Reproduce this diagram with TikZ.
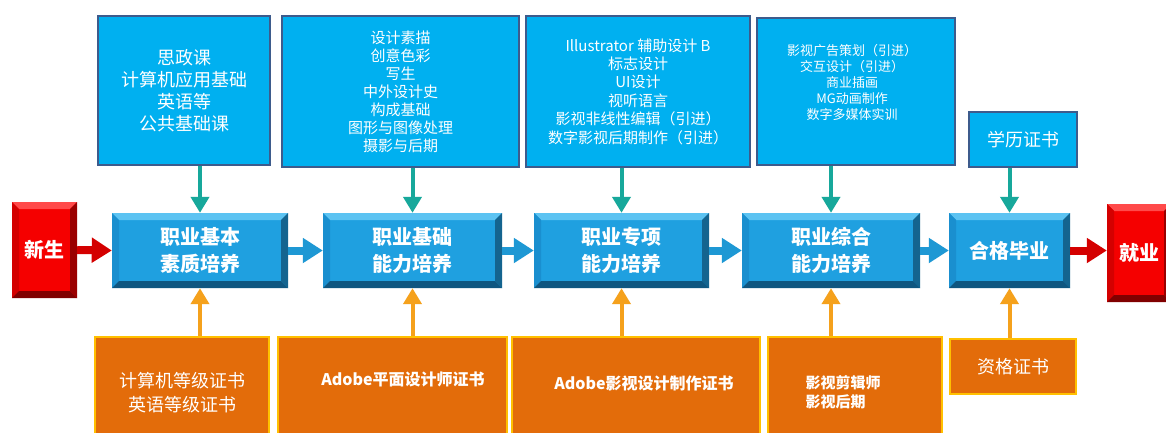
\documentclass[tikz,border=0pt]{standalone}
\usepackage{fontspec}
\setmainfont{Noto Sans CJK SC}
\usetikzlibrary{arrows.meta}

\definecolor{coursefill}{HTML}{00B0F0}
\definecolor{courseedge}{HTML}{3D5B8C}
\definecolor{certfill}{HTML}{E36C0A}
\definecolor{certedge}{HTML}{FFC000}
\definecolor{stageface}{HTML}{1FA0E0}
\definecolor{stagetop}{HTML}{5CC3F2}
\definecolor{stageleft}{HTML}{1A8FCF}
\definecolor{stageright}{HTML}{14648F}
\definecolor{stagebottom}{HTML}{0F5680}
\definecolor{gateface}{HTML}{F50000}
\definecolor{gatetop}{HTML}{FF4A4A}
\definecolor{gateleft}{HTML}{D40000}
\definecolor{gateright}{HTML}{9A0000}
\definecolor{gatebottom}{HTML}{800000}
\definecolor{feedcol}{HTML}{17A89B}
\definecolor{liftcol}{HTML}{F5A11C}
\definecolor{flowcol}{HTML}{1E98D4}
\definecolor{exitcol}{HTML}{D40000}

\tikzset{
  bevel/.style n args={5}{fill=#1, path picture={
    \fill[#2] (path picture bounding box.north west) -- (path picture bounding box.north east)
      -- ([shift={(-7pt,-7pt)}]path picture bounding box.north east) -- ([shift={(7pt,-7pt)}]path picture bounding box.north west) -- cycle;
    \fill[#3] (path picture bounding box.north west) -- ([shift={(7pt,-7pt)}]path picture bounding box.north west)
      -- ([shift={(7pt,7pt)}]path picture bounding box.south west) -- (path picture bounding box.south west) -- cycle;
    \fill[#4] (path picture bounding box.north east) -- ([shift={(-7pt,-7pt)}]path picture bounding box.north east)
      -- ([shift={(-7pt,7pt)}]path picture bounding box.south east) -- (path picture bounding box.south east) -- cycle;
    \fill[#5] (path picture bounding box.south west) -- ([shift={(7pt,7pt)}]path picture bounding box.south west)
      -- ([shift={(-7pt,7pt)}]path picture bounding box.south east) -- (path picture bounding box.south east) -- cycle;
  }},
  course/.style={draw=courseedge, line width=2.5pt, fill=coursefill, text=white, align=center, inner sep=0pt},
  cert/.style={draw=certedge, line width=2.5pt, fill=certfill, text=white, align=center, inner sep=0pt},
  label text/.style={text=white, inner sep=0pt},
  stage/.style={bevel={stageface}{stagetop}{stageleft}{stageright}{stagebottom}, text=white, align=center,
    inner sep=0pt, minimum height=75pt, font=\bfseries\fontsize{20}{27}\selectfont},
  gate/.style={bevel={gateface}{gatetop}{gateleft}{gateright}{gatebottom}, text=white, align=center,
    inner sep=0pt, font=\bfseries\fontsize{20}{24}\selectfont},
  feed/.style={draw=feedcol, line width=4pt, -{Triangle[width=18pt,length=16pt]}},
  lift/.style={draw=liftcol, line width=4pt, -{Triangle[width=18pt,length=16pt]}},
  flow/.style={draw=flowcol, line width=8pt, -{Triangle[width=24pt,length=20pt]}},
  exit/.style={draw=exitcol, line width=8pt, -{Triangle[width=24pt,length=20pt]}},
}

\begin{document}
\begin{tikzpicture}[x=1pt, y=-1pt]
  \useasboundingbox (0,0) rectangle (1166,432);
  \clip (0,0) rectangle (1166,432);
  \fill[white] (0,0) rectangle (1166,432);

  % courses
  \node[course, minimum width=172pt, minimum height=149pt, font=\fontsize{18}{22}\selectfont] (T1) at (184,90.5)
    {思政课\\计算机应用基础\\英语等\\公共基础课};
  \node[course, minimum width=237pt, minimum height=151pt, font=\fontsize{15}{18}\selectfont] (T2) at (400.5,91.5)
    {设计素描\\创意色彩\\写生\\中外设计史\\构成基础\\图形与图像处理\\摄影与后期};
  \node[course, minimum width=224pt, minimum height=151pt, font=\fontsize{15}{18.4}\selectfont] (T3) at (638,91.5)
    {Illustrator 辅助设计 B\\标志设计\\UI设计\\视听语言\\影视非线性编辑（引进）\\数字影视后期制作（引进）};
  \node[course, minimum width=198pt, minimum height=147pt] (T4) at (856,91.5) {};
  \node[label text, align=center, font=\fontsize{13}{16}\selectfont] (T4text) at (852,82)
    {影视广告策划（引进）\\交互设计（引进）\\商业插画\\MG动画制作\\数字多媒体实训};
  \node[course, minimum width=108pt, minimum height=55pt, font=\fontsize{18}{22}\selectfont] (T5) at (1023,139.5) {学历证书};

  % stages
  \node[gate, minimum width=65pt, minimum height=96pt] (S) at (44.5,250) {新生};
  \node[stage, minimum width=176pt] (M1) at (200,250.5) {职业基本\\素质培养};
  \node[stage, minimum width=179pt] (M2) at (412.5,250.5) {职业基础\\能力培养};
  \node[stage, minimum width=175pt] (M3) at (621.5,250.5) {职业专项\\能力培养};
  \node[stage, minimum width=178pt] (M4) at (831,250.5) {职业综合\\能力培养};
  \node[stage, minimum width=121pt] (M5) at (1009.5,250.5) {合格毕业};
  \node[gate, minimum width=64pt, minimum height=98pt] (E) at (1139,253) {就业};

  % certificates
  \node[cert, minimum width=174pt, minimum height=112pt, font=\fontsize{18}{24}\selectfont] (B1) at (182,393)
    {计算机等级证书\\英语等级证书};
  \node[cert, minimum width=229pt, minimum height=112pt] (B2) at (392.5,393) {};
  \node[label text, font=\bfseries\fontsize{16}{20}\selectfont] (B2text) at (403,379) {Adobe平面设计师证书};
  \node[cert, minimum width=248pt, minimum height=112pt] (B3) at (636,393) {};
  \node[label text, font=\bfseries\fontsize{16}{20}\selectfont] (B3text) at (644,383) {Adobe影视设计制作证书};
  \node[cert, minimum width=174pt, minimum height=112pt] (B4) at (855,393) {};
  \node[label text, align=left, font=\bfseries\fontsize{15}{19}\selectfont] (B4text) at (843,392) {影视剪辑师\\影视后期};
  \node[cert, minimum width=126pt, minimum height=55pt, font=\fontsize{18}{22}\selectfont] (B5) at (1013,366.5) {资格证书};

  % main line
  \draw[exit] (S.east) -- (M1.west);
  \draw[flow] (M1.east) -- (M2.west);
  \draw[flow] (M2.east) -- (M3.west);
  \draw[flow] (M3.east) -- (M4.west);
  \draw[flow] (M4.east) -- (M5.west);
  \draw[exit] (M5.east) -- (M5.east -| E.west);

  % courses feed in, certificates lift up
  \draw[feed] (T1.south -| M1.north) -- (M1.north);
  \draw[feed] (T2.south -| M2.north) -- (M2.north);
  \draw[feed] (T3.south -| M3.north) -- (M3.north);
  \draw[feed] (T4.south -| M4.north) -- (M4.north);
  \draw[feed] (T5.south -| M5.north) -- (M5.north);
  \draw[lift] (B1.north -| M1.south) -- (M1.south);
  \draw[lift] (B2.north -| M2.south) -- (M2.south);
  \draw[lift] (B3.north -| M3.south) -- (M3.south);
  \draw[lift] (B4.north -| M4.south) -- (M4.south);
  \draw[lift] (B5.north -| M5.south) -- (M5.south);
\end{tikzpicture}
\end{document}
